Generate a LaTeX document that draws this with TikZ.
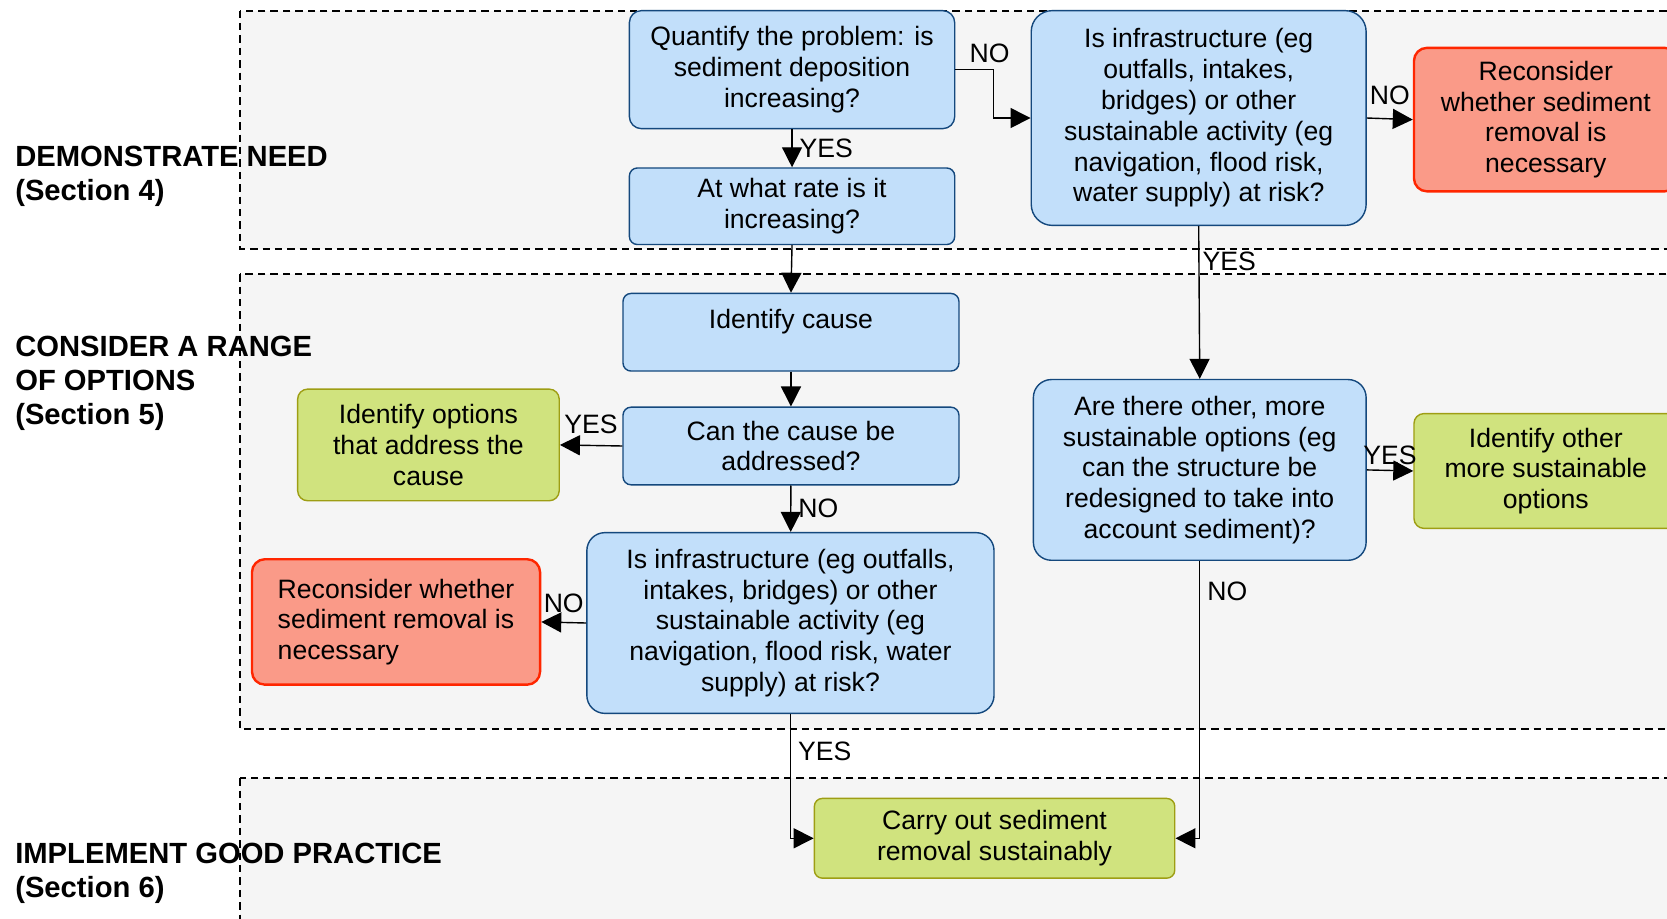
\documentclass[tikz,border=0pt]{standalone}
\usepackage{fontspec}
\setmainfont{Liberation Sans}
\usetikzlibrary{arrows.meta}
\newlength\pxu
\setlength\pxu{0.5316pt}
\definecolor{askblue}{RGB}{194,223,250}
\definecolor{askblueline}{RGB}{20,72,125}
\definecolor{optgreen}{RGB}{208,227,126}
\definecolor{optgreenline}{RGB}{158,158,20}
\definecolor{backred}{RGB}{250,154,136}
\definecolor{backredline}{RGB}{255,38,0}
\definecolor{zonegray}{RGB}{245,245,245}

\begin{document}
\begin{tikzpicture}[x=0.5316pt, y=-0.5316pt,
    every node/.style={font=\fontsize{13.3}{15.4}\selectfont, inner sep=2pt},
    qbox/.style={draw=askblueline, fill=askblue, line width=0.7pt, align=center},
    gbox/.style={draw=optgreenline, fill=optgreen, line width=0.7pt, align=center, rounded corners=5pt},
    rbox/.style={draw=backredline, fill=backred, line width=1.2pt, rounded corners=6.5pt},
    zone/.style={draw=black, fill=zonegray, dash pattern=on 3.7pt off 2.5pt, line width=0.9pt},
    phase/.style={anchor=west, align=left, inner sep=0pt, font=\fontsize{14.6}{17}\selectfont\bfseries},
    flow/.style={-{Triangle[length=10pt,width=10pt]}, line width=0.7pt},
    yn/.style={inner sep=1.5pt}]
    \path[use as bounding box, fill=white] (0,0) rectangle (1568,864);
    % the three stages
    \draw[zone] (226,10) rectangle (1600,234);
    \draw[zone] (226,258) rectangle (1600,686);
    \draw[zone] (226,732) rectangle (1600,900);
    \node[phase] (need) at (14,166) {DEMONSTRATE NEED\\(Section 4)};
    \node[phase] (range) at (14,361) {CONSIDER A RANGE\\OF OPTIONS\\(Section 5)};
    \node[phase] (good) at (14,821) {IMPLEMENT GOOD PRACTICE\\(Section 6)};

    \node[qbox, rounded corners=6pt, minimum width=306\pxu, minimum height=111\pxu] (quantify) at (745,65.5) {Quantify the problem: is\\sediment deposition\\increasing?};
    \node[qbox, rounded corners=4pt, minimum width=306\pxu, minimum height=72\pxu] (rate) at (745,194) {At what rate is it\\increasing?};
    \node[qbox, rounded corners=10.5pt, minimum width=315\pxu, minimum height=202\pxu] (risk) at (1127.5,111) {Is infrastructure (eg\\outfalls, intakes,\\bridges) or other\\sustainable activity (eg\\navigation, flood risk,\\water supply) at risk?};
    \node[rbox, align=center, minimum width=248\pxu, minimum height=135\pxu] (recheck) at (1454,112.5) {Reconsider\\whether sediment\\removal is\\necessary};
    \node[qbox, rounded corners=4pt, minimum width=316\pxu, minimum height=73\pxu, text depth=25\pxu] (cause) at (744,312.5) {Identify cause};
    \node[qbox, rounded corners=4pt, minimum width=316\pxu, minimum height=73\pxu] (fixable) at (744,419.5) {Can the cause be\\addressed?};
    \node[gbox, minimum width=246\pxu, minimum height=105\pxu] (address) at (403,418.5) {Identify options\\that address the\\cause};
    \node[qbox, rounded corners=9pt, minimum width=383\pxu, minimum height=170\pxu] (risktwo) at (743.5,586) {Is infrastructure (eg outfalls,\\intakes, bridges) or other\\sustainable activity (eg\\navigation, flood risk, water\\supply) at risk?};
    \node[rbox, align=left, minimum width=271\pxu, minimum height=118\pxu] (rechecktwo) at (372.5,585) {Reconsider whether\\sediment removal is\\necessary};
    \node[qbox, rounded corners=9pt, minimum width=313\pxu, minimum height=170\pxu] (other) at (1128.5,442) {Are there other, more\\sustainable options (eg\\can the structure be\\redesigned to take into\\account sediment)?};
    \node[gbox, minimum width=248\pxu, minimum height=108\pxu] (otherid) at (1454,443) {Identify other\\more sustainable\\options};
    \node[gbox, rounded corners=4pt, minimum width=339\pxu, minimum height=75\pxu] (carry) at (935.5,788.5) {Carry out sediment\\removal sustainably};

    \draw[flow] (quantify) -- node[midway, right, yn, xshift=2pt] {YES} (rate);
    \draw[flow] (rate.south) -- (cause.north);
    \draw[flow] (quantify.east) -- ++(36,0) node[above, yn, xshift=-2pt, yshift=1.5pt] {NO} |- (risk.west);
    \draw[flow] (risk.east) -- node[midway, above, yn, yshift=5pt] {NO} (recheck.west);
    \draw[flow] (risk.south) -- node[pos=0.23, right, yn] {YES} (other.north);
    \draw[flow] (cause) -- (fixable);
    \draw[flow] (fixable.west) -- node[midway, above, yn, yshift=4pt] {YES} (address.east);
    \draw[flow] (fixable) -- node[midway, right, yn, xshift=2pt] {NO} (risktwo);
    \draw[flow] (risktwo.west) -- node[midway, above, yn, yshift=3pt] {NO} (rechecktwo.east);
    \draw[flow] (risktwo.south) |- node[pos=0.15, right, yn, xshift=2pt] {YES} (carry.west);
    \draw[flow] (other.south) |- node[pos=0.055, right, yn, xshift=2pt] {NO} (carry.east);
    \draw[flow] (other.east) -- node[midway, above, yn, yshift=1pt] {YES} (otherid.west);
\end{tikzpicture}
\end{document}
